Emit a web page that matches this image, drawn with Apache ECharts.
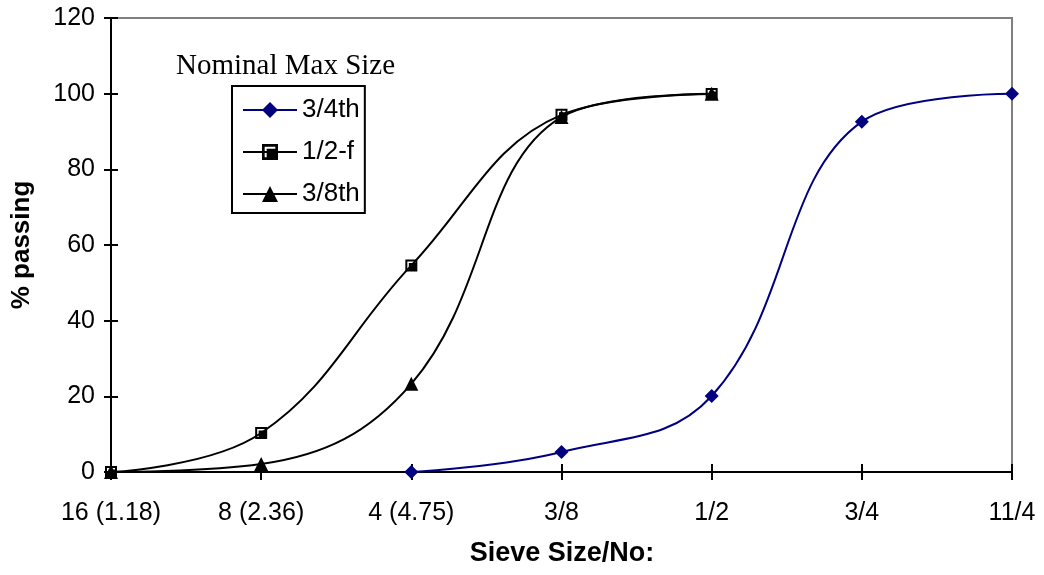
<!DOCTYPE html>
<html>
<head>
<meta charset="utf-8">
<script src="https://cdn.jsdelivr.net/npm/echarts@6/dist/echarts.min.js"></script>
<style>
  html, body { margin: 0; padding: 0; background: #fff; }
  #chart { width: 1044px; height: 575px; }
</style>
</head>
<body>
<div id="chart"></div>
<script>
// Sieve sizes along the horizontal axis
const sieveSizes = ['16 (1.18)', '8 (2.36)', '4 (4.75)', '3/8', '1/2', '3/4', '11/4'];

// Percent passing for each nominal maximum size
const passing34th = [null, null, 0, 5.3, 20.1, 92.6, 100];
const passing12f = [0, 10.3, 54.6, 94.4, 99.9, null, null];
const passing38th = [0, 2.1, 23.3, 93.8, 100, null, null];

const seriesNames = ['3/4th', '1/2-f', '3/8th'];
const yTicks = { min: 0, max: 120, step: 20 };

// Square marker: black outline, white L-shaped highlight, black core
const squareMark = 'path://M0,0H12V12H0Z M2,2L2,10L3.5,10L3.5,3.5L10,3.5L10,2Z';

const sans = 'Liberation Sans, Arial, sans-serif';
const serif = 'Liberation Serif, Times New Roman, serif';

const chart = echarts.init(document.getElementById('chart'), null, { renderer: 'canvas' });

const gridBox = { left: 111, right: 32, top: 18, bottom: 103 };

chart.setOption({
  backgroundColor: '#ffffff',
  animation: false,
  grid: Object.assign({ show: true, borderColor: '#808080', borderWidth: 2, backgroundColor: 'transparent' }, gridBox),
  graphic: [{
    type: 'text',
    left: 176,
    top: 52,
    style: { text: 'Nominal Max Size', font: '29px ' + serif, fill: '#000' }
  }, {
    // horizontal axis title, centred under the plot
    type: 'text',
    x: 562,
    y: 554,
    style: {
      text: 'Sieve Size/No:',
      font: 'bold 27px ' + sans,
      fill: '#000',
      align: 'center',
      verticalAlign: 'middle'
    }
  }],
  legend: {
    orient: 'vertical',
    left: 232,
    top: 86,
    data: seriesNames,
    backgroundColor: '#fff',
    borderColor: '#000',
    borderWidth: 2,
    padding: [11, 5, 6, 10],
    itemWidth: 54,
    itemHeight: 20,
    itemGap: 16,
    textStyle: { fontFamily: sans, fontSize: 26, color: '#000', lineHeight: 26 }
  },
  xAxis: [{
    type: 'category',
    data: sieveSizes,
    boundaryGap: false,
    axisLine: { lineStyle: { color: '#000', width: 2 } },
    axisTick: { show: true, length: 8, inside: false, lineStyle: { color: '#000', width: 2 } },
    axisLabel: { fontFamily: sans, fontSize: 25, color: '#000', margin: 29 },
    splitLine: { show: false }
  }, {
    type: 'category',
    data: sieveSizes,
    boundaryGap: false,
    position: 'bottom',
    axisLine: { show: false },
    axisTick: { show: true, length: 8, inside: true, lineStyle: { color: '#000', width: 2 } },
    axisLabel: { show: false },
    splitLine: { show: false }
  }],
  yAxis: [{
    type: 'value',
    min: yTicks.min,
    max: yTicks.max,
    interval: yTicks.step,
    axisLine: { show: true, lineStyle: { color: '#000', width: 2 } },
    axisTick: { show: true, length: 7, inside: false, lineStyle: { color: '#000', width: 2 } },
    axisLabel: { fontFamily: sans, fontSize: 25, color: '#000', margin: 16 },
    splitLine: { show: false },
    name: '% passing',
    nameLocation: 'middle',
    nameGap: 76,
    nameRotate: 90,
    nameTextStyle: { fontFamily: sans, fontSize: 26, fontWeight: 'bold', color: '#000' }
  }, {
    type: 'value',
    min: yTicks.min,
    max: yTicks.max,
    interval: yTicks.step,
    position: 'left',
    axisLine: { show: false },
    axisTick: { show: true, length: 7, inside: true, lineStyle: { color: '#000', width: 2 } },
    axisLabel: { show: false },
    splitLine: { show: false }
  }],
  series: [{
    name: seriesNames[0],
    type: 'line',
    data: passing34th,
    smooth: 0.4,
    symbol: 'diamond',
    symbolSize: 14,
    showAllSymbol: true,
    color: '#000080',
    lineStyle: { color: '#000080', width: 2 },
    itemStyle: { color: '#000080' },
    z: 4
  }, {
    name: seriesNames[1],
    type: 'line',
    data: passing12f,
    smooth: 0.4,
    symbol: squareMark,
    symbolSize: 12,
    showAllSymbol: true,
    color: '#000',
    lineStyle: { color: '#000', width: 2 },
    itemStyle: { color: '#000' },
    z: 3
  }, {
    name: seriesNames[2],
    type: 'line',
    data: passing38th,
    smooth: 0.4,
    symbol: 'triangle',
    symbolSize: 14,
    showAllSymbol: true,
    color: '#000',
    lineStyle: { color: '#000', width: 2 },
    itemStyle: { color: '#000' },
    z: 2
  }]
});
</script>
</body>
</html>
